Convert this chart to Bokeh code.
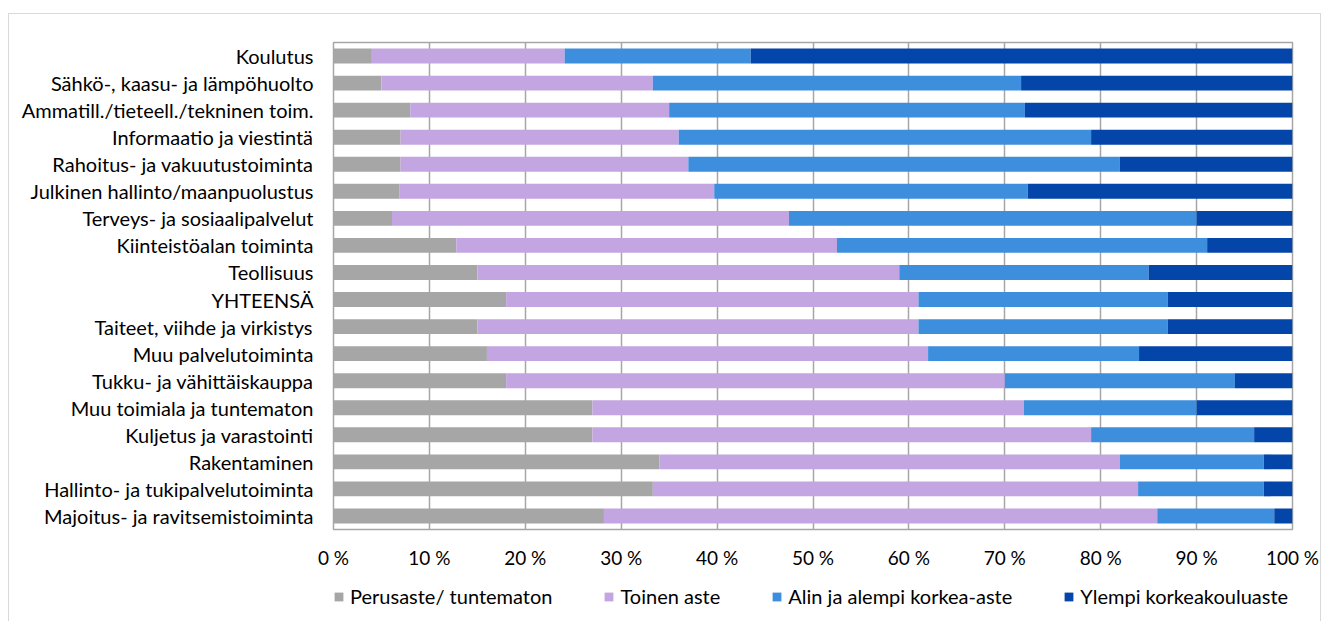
from bokeh.plotting import figure
from bokeh.layouts import column
from bokeh.models import (ColumnDataSource, FactorRange, Range1d, FixedTicker,
                          Legend, LegendItem)
from bokeh.embed import file_html
from bokeh.resources import INLINE

categories = [
    "Koulutus",
    "Sähkö-, kaasu- ja lämpöhuolto",
    "Ammatill./tieteell./tekninen toim.",
    "Informaatio ja viestintä",
    "Rahoitus- ja vakuutustoiminta",
    "Julkinen hallinto/maanpuolustus",
    "Terveys- ja sosiaalipalvelut",
    "Kiinteistöalan toiminta",
    "Teollisuus",
    "YHTEENSÄ",
    "Taiteet, viihde ja virkistys",
    "Muu palvelutoiminta",
    "Tukku- ja vähittäiskauppa",
    "Muu toimiala ja tuntematon",
    "Kuljetus ja varastointi",
    "Rakentaminen",
    "Hallinto- ja tukipalvelutoiminta",
    "Majoitus- ja ravitsemistoiminta",
]

perusaste = [4.0, 5.0, 8.0, 7.0, 7.0, 6.9, 6.1, 12.8, 15.0, 18.0, 15.0, 16.0, 18.0, 27.0, 27.0, 34.0, 33.3, 28.2]
toinen    = [20.1, 28.3, 27.0, 29.0, 30.0, 32.8, 41.4, 39.7, 44.0, 43.0, 46.0, 46.0, 52.0, 45.0, 52.0, 48.0, 50.6, 57.7]
alin      = [19.4, 38.4, 37.1, 43.0, 45.0, 32.7, 42.5, 38.6, 26.0, 26.0, 26.0, 22.0, 24.0, 18.0, 17.0, 15.0, 13.1, 12.2]
ylempi    = [56.5, 28.3, 27.9, 21.0, 18.0, 27.6, 10.0, 8.9, 15.0, 13.0, 13.0, 16.0, 6.0, 10.0, 4.0, 3.0, 3.0, 1.9]

series_names = ["Perusaste/ tuntematon", "Toinen aste",
                "Alin ja alempi korkea-aste", "Ylempi korkeakouluaste"]
series_colors = ["#a6a6a6", "#c3a5e2", "#3e8ede", "#0345a8"]
tick_values = [0, 10, 20, 30, 40, 50, 60, 70, 80, 90, 100]
tick_labels = ["0 %", "10 %", "20 %", "30 %", "40 %", "50 %", "60 %", "70 %", "80 %", "90 %", "100 %"]

keys = ["s0", "s1", "s2", "s3"]
source = ColumnDataSource(dict(cat=categories, s0=perusaste, s1=toinen, s2=alin, s3=ylempi))

FONT = "Lato"

# ---- main chart ----
p = figure(frame_width=959, frame_height=487, output_backend="svg", toolbar_location=None,
           y_range=FactorRange(*list(reversed(categories))),
           x_range=Range1d(0, 100),
           min_border_left=324, min_border_right=28, min_border_top=28, min_border_bottom=0)

p.hbar_stack(keys, y="cat", height=0.55, color=series_colors, source=source, line_color=None)

p.y_range.range_padding = 0
p.outline_line_color = "#a6a6a6"
p.outline_line_width = 1.5

p.xgrid.ticker = FixedTicker(ticks=tick_values)
p.xgrid.grid_line_color = "#a6a6a6"
p.xgrid.grid_line_width = 1.5
p.ygrid.grid_line_color = None

p.xaxis.ticker = FixedTicker(ticks=tick_values)
p.xaxis.major_label_overrides = {v: l for v, l in zip(tick_values, tick_labels)}
p.xaxis.axis_line_color = None
p.xaxis.major_tick_line_color = None
p.xaxis.minor_tick_line_color = None
p.xaxis.major_label_standoff = 10
p.xaxis.major_label_text_font = FONT
p.xaxis.major_label_text_font_size = "19px"
p.xaxis.major_label_text_color = "#000000"

p.yaxis.axis_line_color = None
p.yaxis.major_tick_line_color = None
p.yaxis.minor_tick_line_color = None
p.yaxis.major_label_standoff = 14
p.yaxis.major_label_text_font = FONT
p.yaxis.major_label_text_font_size = "20px"
p.yaxis.major_label_text_color = "#000000"

# ---- legend strip (same series, bars kept outside its visible range) ----
leg = figure(frame_width=959, frame_height=40, output_backend="svg", toolbar_location=None,
             y_range=FactorRange(*list(reversed(categories))),
             x_range=Range1d(1000, 1100),
             x_axis_type=None, y_axis_type=None,
             min_border_left=324, min_border_right=28, min_border_top=5, min_border_bottom=30)
leg.outline_line_color = None
leg.xgrid.grid_line_color = None
leg.ygrid.grid_line_color = None
leg_renderers = leg.hbar_stack(keys, y="cat", height=0.001, color=series_colors, source=source,
                               line_color=None)

legend = Legend(items=[LegendItem(label=n, renderers=[r]) for n, r in zip(series_names, leg_renderers)],
                orientation="horizontal", location="left",
                label_text_font=FONT, label_text_font_size="20px", label_text_color="#000000",
                glyph_width=11, glyph_height=11, label_standoff=6, spacing=51,
                border_line_color=None, background_fill_alpha=0, padding=3, margin=0)
leg.add_layout(legend, "center")

layout = column(p, leg, spacing=0)
layout.margin = (13, 0, 0, 8)
layout.styles = {"border": "1px solid #d9d9d9"}

open("out.html", "w").write(file_html(layout, INLINE))
